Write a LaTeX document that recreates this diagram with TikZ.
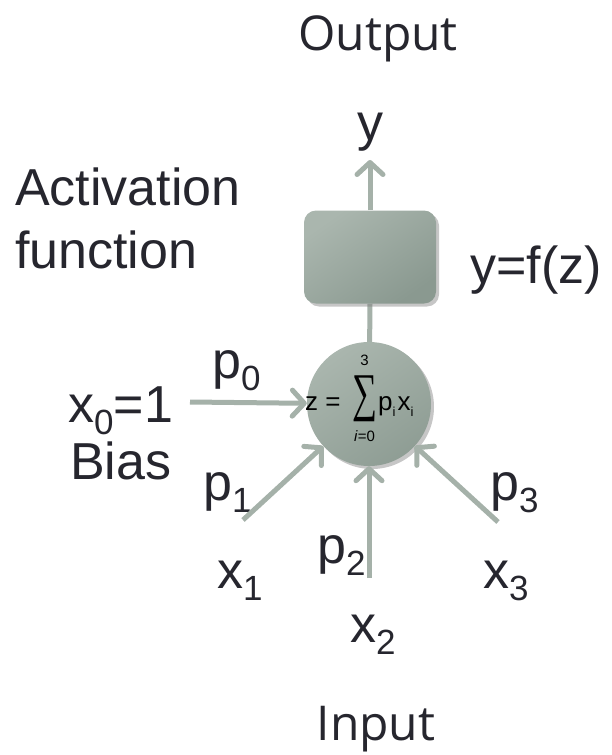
\documentclass[tikz,border=0pt]{standalone}
\usepackage{fontspec}
\usepackage{graphicx}
\setmainfont{Liberation Sans}
\newfontfamily\osans{Open Sans}
\newfontfamily\sigfont{Liberation Serif}
\usetikzlibrary{arrows.meta,shadows,backgrounds}
\definecolor{ink}{RGB}{38,38,46}
\definecolor{sage}{RGB}{165,177,169}
\definecolor{sagelight}{RGB}{170,182,174}
\definecolor{sagedark}{RGB}{138,153,144}
\newcommand\lbsub[1]{\raisebox{-12pt}{\fontsize{35}{35}\selectfont #1}}
\newcommand\fsub[1]{\raisebox{-6pt}{\fontsize{13}{13}\selectfont #1}}
\begin{document}
\begin{tikzpicture}[x=1pt,y=-1pt,
  lbl/.style={inner sep=0, text=ink, font=\fontsize{52}{62}\selectfont, anchor=base west},
  ttl/.style={inner sep=0, text=ink, font=\osans\fontsize{48}{58}\selectfont, anchor=base},
  fml/.style={inner sep=0, text=black, font=\fontsize{26}{30}\selectfont, anchor=base west},
  fsm/.style={inner sep=0, text=black, font=\fontsize{15}{17}\selectfont},
  conn/.style={draw=sage, line width=5pt, -{Straight Barb[length=12pt,width=26pt,round]}},
  plain/.style={draw=sage, line width=5pt},
  actbox/.style={minimum width=132pt, minimum height=93pt, rounded corners=12pt, inner sep=0,
    top color=sagelight, bottom color=sagedark, shading angle=35,
    drop shadow={opacity=0.45, shadow xshift=3pt, shadow yshift=-3pt}},
  sumcirc/.style={circle, minimum size=124pt, inner sep=0,
    top color=sagelight, bottom color=sagedark!85!sagelight, shading angle=35,
    drop shadow={opacity=0.45, shadow xshift=3pt, shadow yshift=-3pt}}
]
\useasboundingbox (0,0) rectangle (612,755);

% shapes
\node[actbox] (act) at (370,257) {};
\node[sumcirc] (sum) at (369,404) {};

% formula
\node[fml] (fz) at (305,410) {z =};
\node[inner sep=0] (sig) at (364.5,399) {\resizebox*{25pt}{46pt}{\sigfont ∑}};
\node[fsm] (sup) at (364.5,360) {3};
\node[fsm] (sub) at (364.5,436) {\textit{i}=0};
\node[fml] (px) at (378,410) {p\fsub{i}\hspace{2pt}x\fsub{i}};

% titles and labels
\node[ttl] (out) at (378,50) {Output};
\node[ttl] (inp) at (376,740) {Input};
\node[lbl, anchor=base] (yout) at (370,140) {y};
\node[lbl] (acta) at (15,205) {Activation};
\node[lbl] (actb) at (15,268) {function};
\node[lbl] (fz2) at (470,283) {y=f(z)};
\node[lbl] (p0) at (212,378) {p\lbsub{0}};
\node[lbl] (x0) at (68,422) {x\lbsub{0}=1};
\node[lbl] (bias) at (70,479) {Bias};
\node[lbl] (p1) at (203,500) {p\lbsub{1}};
\node[lbl] (p3) at (490,500) {p\lbsub{3}};
\node[lbl] (p2) at (317,563) {p\lbsub{2}};
\node[lbl] (x1) at (217,588) {x\lbsub{1}};
\node[lbl] (x3) at (483,588) {x\lbsub{3}};
\node[lbl] (x2) at (350,642) {x\lbsub{2}};

% connector ends
\coordinate (ytip) at (370,160);
\coordinate (t0) at (190,402);
\coordinate (t1) at (243,520);
\coordinate (t2) at (369,578);
\coordinate (t3) at (498,522);

\begin{scope}[on background layer]
\draw[plain] (act.south) -- (sum.center);
\end{scope}
\draw[conn] (act.north) -- (ytip);
\draw[conn] (t0) -- (sum);
\draw[conn] (t1) -- (sum);
\draw[conn] (t2) -- (sum);
\draw[conn] (t3) -- (sum);
\end{tikzpicture}
\end{document}
